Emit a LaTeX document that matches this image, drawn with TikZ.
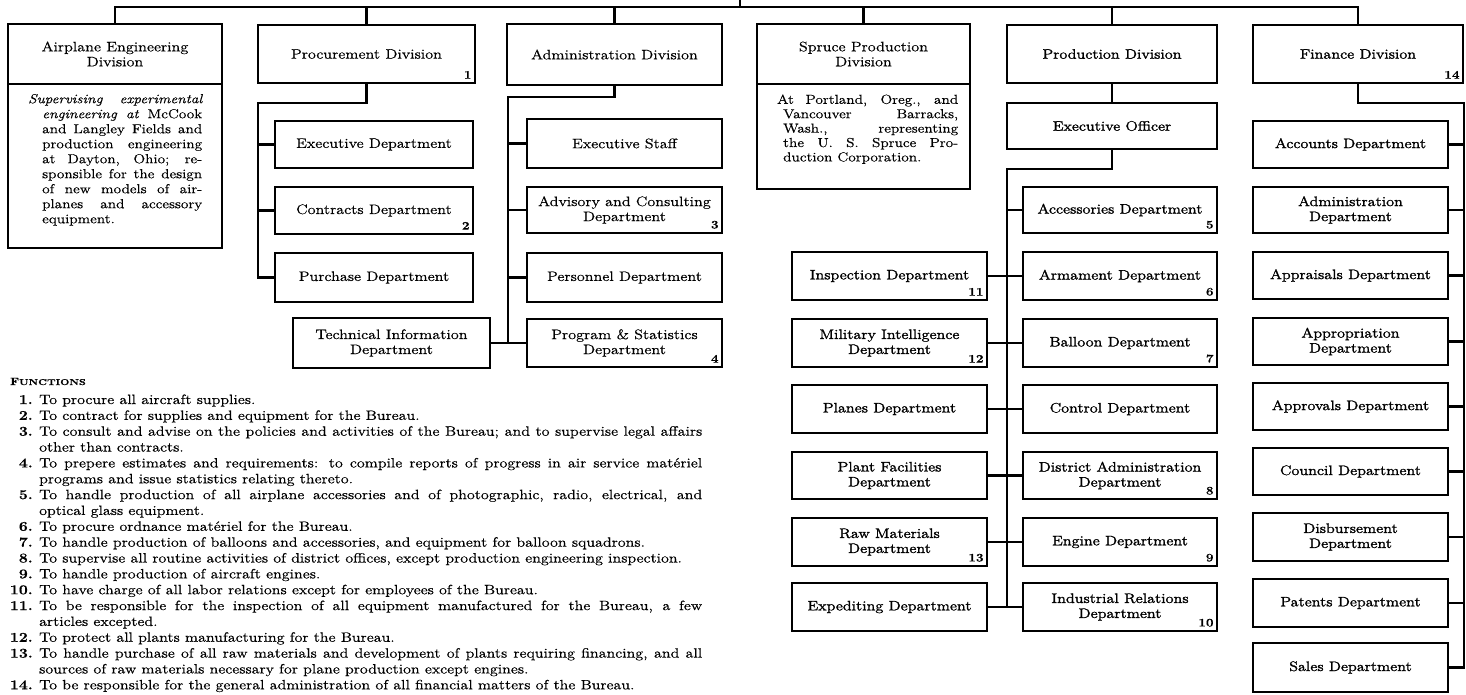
\documentclass[tikz,border=0pt]{standalone}
\usepackage{graphicx}
\usepackage{fontspec}
\setmainfont{Latin Modern Roman}[FakeStretch=1.18,FakeBold=0.5]
\newfontfamily\heavyfam{Latin Modern Roman}[FakeStretch=1.18,FakeBold=1.6]
\newcommand\lblfont{\fontsize{13.7}{15}\selectfont}
\newcommand\heavylbl{\heavyfam\fontsize{13.7}{15}\selectfont}
\newcommand\fntfont{\fontsize{13.5}{15}\selectfont}
\newlength\fnat
\newlength\jwid
% horizontal setting width of the functions list
\AtBeginDocument{%
  \settowidth\fnat{\fntfont To procure all aircraft supplies.%
  To contract for supplies and equipment for the Bureau.%
  To handle production of balloons and accessories, and equipment for balloon squadrons.%
  To supervise all routine activities of district offices, except production engineering inspection.%
  To handle production of aircraft engines.%
  To have charge of all labor relations except for employees of the Bureau.%
  To protect all plants manufacturing for the Bureau.%
  sources of raw materials necessary for plane production except engines.%
  To be responsible for the general administration of all financial matters of the Bureau.}%
  \pgfmathsetmacro\fsx{4065/\fnat}%
  \pgfmathsetlength\jwid{663pt/\fsx}}
% box: [options]{name}{x1}{y1}{x2}{y2}{label}
\newcommand\ubox[7][]{%
  \node[box,#1,minimum width={(#5-#3)*1pt},minimum height={(#6-#4)*1pt}]
    (#2) at ({(#3+#5)/2},{(#4+#6)/2}) {#7};}
% reference number in the lower right corner of a box
\newcommand\unum[2]{%
  \node[numl,anchor=south east] (#1n) at ([shift={(-4,-5)}]#1.south east) {#2};}
% functions list: numbered line, continuation line
\newcommand\fitem[4]{%
  \node[fnt,anchor=base east] (#1n) at (33,#2) {\bfseries #3.};
  \node[fnt,anchor=base west] (#1) at (39,#2) {\scalebox{\fsx}[1]{#4}};}
\newcommand\fcont[3]{%
  \node[fnt,anchor=base west] (#1) at (39,#2) {\scalebox{\fsx}[1]{#3}};}
\newcommand\jl[1]{\makebox[\jwid][s]{#1}}
\begin{document}
\begin{tikzpicture}[x=1pt,y=-1pt,
  box/.style={draw,line width=1.5pt,inner sep=0pt,align=center,font=\lblfont},
  heavy/.style={font=\heavylbl},
  conn/.style={draw,line width=2.6pt,line cap=rect},
  numl/.style={inner sep=0pt,font=\fontsize{11.5}{13}\selectfont\bfseries},
  body/.style={inner sep=0pt,align=left,anchor=north west},
  fnt/.style={inner sep=0pt,font=\fntfont}]
\useasboundingbox (0,0) rectangle (1466,694);

% ---- divisions ----
\ubox{aed}{8}{24}{222}{84}{Airplane Engineering\\Division}
\ubox{aedb}{8}{84}{222}{248}{}
\ubox{proc}{258}{25}{475}{83}{Procurement Division}\unum{proc}{1}
\ubox{adm}{507}{24}{722}{85}{Administration Division}
\ubox{spr}{757}{24}{970}{84}{Spruce Production\\Division}
\ubox{sprb}{757}{84}{970}{189}{}
\ubox[heavy]{prd}{1007}{25}{1217}{83}{Production Division}
\ubox[heavy]{fin}{1253}{25}{1463}{83}{Finance Division}\unum{fin}{14}

% ---- descriptive notes ----
\node[body,font=\fontsize{13}{15}\selectfont] (aedt) at (28,92.5) {%
  \strut\makebox[174pt][s]{\itshape Supervising experimental}\\
  \hspace*{14pt}\makebox[160pt][s]{\textit{engineering at} McCook}\\
  \hspace*{14pt}\makebox[160pt][s]{and Langley Fields and}\\
  \hspace*{14pt}\makebox[160pt][s]{production engineering}\\
  \hspace*{14pt}\makebox[160pt][s]{at Dayton, Ohio; re-}\\
  \hspace*{14pt}\makebox[160pt][s]{sponsible for the design}\\
  \hspace*{14pt}\makebox[160pt][s]{of new models of air-}\\
  \hspace*{14pt}\makebox[160pt][s]{planes and accessory}\\
  \hspace*{14pt}equipment.};
\node[body,font=\fontsize{13}{14.4}\selectfont] (sprt) at (777,93.5) {%
  \strut\makebox[181pt][s]{At Portland, Oreg., and}\\
  \hspace*{6pt}\makebox[175pt][s]{Vancouver Barracks,}\\
  \hspace*{6pt}\makebox[175pt][s]{Wash., representing}\\
  \hspace*{6pt}\makebox[175pt][s]{the U. S. Spruce Pro-}\\
  \hspace*{6pt}duction Corporation.};

% ---- procurement ----
\ubox{pexe}{275}{121}{473}{168}{Executive Department}
\ubox{pcon}{275}{187}{473}{234}{Contracts Department}\unum{pcon}{2}
\ubox{ppur}{275}{253}{473}{302}{Purchase Department}
\ubox{tinf}{293}{318}{490}{368}{Technical Information\\Department}

% ---- administration ----
\ubox{aexe}{527}{119}{722}{168}{Executive Staff}
\ubox{aadv}{527}{187}{722}{233}{Advisory and Consulting\\Department}\unum{aadv}{3}
\ubox{aper}{527}{253}{722}{302}{Personnel Department}
\ubox{aprg}{527}{319}{722}{367}{Program \& Statistics\\Department}\unum{aprg}{4}

% ---- production ----
\ubox[heavy]{peo}{1007}{103}{1217}{149}{Executive Officer}
\ubox[heavy]{acc}{1023}{187}{1217}{233}{Accessories Department}\unum{acc}{5}
\ubox[heavy]{arm}{1023}{252}{1217}{300}{Armament Department}\unum{arm}{6}
\ubox[heavy]{bal}{1023}{319}{1217}{367}{Balloon Department}\unum{bal}{7}
\ubox[heavy]{ctl}{1023}{385}{1217}{433}{Control Department}
\ubox[heavy]{dad}{1023}{452}{1217}{499}{District Administration\\Department}\unum{dad}{8}
\ubox[heavy]{eng}{1023}{518}{1217}{566}{Engine Department}\unum{eng}{9}
\ubox[heavy]{ind}{1023}{583}{1217}{631}{Industrial Relations\\Department}\unum{ind}{10}
\ubox[heavy]{insp}{792}{252}{987}{300}{Inspection Department}\unum{insp}{11}
\ubox[heavy]{mil}{792}{319}{987}{367}{Military Intelligence\\Department}\unum{mil}{12}
\ubox[heavy]{pla}{792}{385}{987}{433}{Planes Department}
\ubox[heavy]{pfa}{792}{452}{987}{499}{Plant Facilities\\Department}
\ubox[heavy]{raw}{792}{518}{987}{566}{Raw Materials\\Department}\unum{raw}{13}
\ubox[heavy]{exp}{792}{583}{987}{631}{Expediting Department}

% ---- finance ----
\ubox[heavy]{facc}{1253}{121}{1448}{168}{Accounts Department}
\ubox[heavy]{fadm}{1253}{187}{1448}{233}{Administration\\Department}
\ubox[heavy]{fapr}{1253}{252}{1448}{299}{Appraisals Department}
\ubox[heavy]{fapp}{1253}{318}{1448}{365}{Appropriation\\Department}
\ubox[heavy]{fapv}{1253}{383}{1448}{430}{Approvals Department}
\ubox[heavy]{fcou}{1253}{448}{1448}{495}{Council Department}
\ubox[heavy]{fdis}{1253}{513}{1448}{561}{Disbursement\\Department}
\ubox[heavy]{fpat}{1253}{579}{1448}{627}{Patents Department}
\ubox[heavy]{fsal}{1253}{643}{1448}{692}{Sales Department}

% ---- connectors ----
\coordinate (topbar) at (740,7);
\coordinate (topend) at (740,0);
\draw[conn] (aed.north) |- (fin.north |- topbar) -- (fin.north);
\draw[conn] (topend) -- (topbar);
\foreach \n in {proc,adm,spr,prd} \draw[conn] (\n.north) -- (\n.north |- topbar);

\coordinate (pbus) at (258,103);
\draw[conn] (proc.south) |- (pbus) -- (pbus |- ppur.west) -- (ppur.west);
\foreach \n in {pexe,pcon} \draw[conn] (pbus |- \n.west) -- (\n.west);

\coordinate (abus) at (508,97);
\draw[conn] (adm.south) |- (abus) -- (abus |- aprg.west) -- (aprg.west);
\foreach \n in {aexe,aadv,aper} \draw[conn] (abus |- \n.west) -- (\n.west);
\draw[conn] (tinf.east) -- (abus |- tinf.east);

\draw[conn] (prd.south) -- (peo.north);
\coordinate (dbus) at (1007,169);
\draw[conn] (peo.south) |- (dbus) -- (dbus |- ind.west) -- (ind.west);
\draw[conn] (dbus |- acc.west) -- (acc.west);
\draw[conn] (exp.east) -- (dbus |- exp.east);
\draw[conn] (insp.east) -- (arm.west);
\draw[conn] (mil.east) -- (bal.west);
\draw[conn] (pla.east) -- (ctl.west);
\draw[conn] (pfa.east) -- (dad.west);
\draw[conn] (raw.east) -- (eng.west);

\coordinate (fbus) at (1464,103);
\draw[conn] (fin.south) |- (fbus) -- (fbus |- fsal.east) -- (fsal.east);
\foreach \n in {facc,fadm,fapr,fapp,fapv,fcou,fdis,fpat}
  \draw[conn] (fbus |- \n.east) -- (\n.east);

% ---- functions ----
\node[inner sep=0pt,anchor=base west,font=\bfseries] (fhead) at (10,385)
  {\fontsize{10.5}{12}\selectfont F\fontsize{8.5}{10}\selectfont UNCTIONS};
\fitem{f1}{404}{1}{To procure all aircraft supplies.}
\fitem{f2}{419.85}{2}{To contract for supplies and equipment for the Bureau.}
\fitem{f3}{435.7}{3}{\jl{To consult and advise on the policies and activities of the Bureau; and to supervise legal affairs}}
\fcont{f3b}{451.55}{other than contracts.}
\fitem{f4}{467.4}{4}{\jl{To prepere estimates and requirements: to compile reports of progress in air service mat\'eriel}}
\fcont{f4b}{483.25}{programs and issue statistics relating thereto.}
\fitem{f5}{499.1}{5}{\jl{To handle production of all airplane accessories and of photographic, radio, electrical, and}}
\fcont{f5b}{514.95}{optical glass equipment.}
\fitem{f6}{530.8}{6}{To procure ordnance mat\'eriel for the Bureau.}
\fitem{f7}{546.65}{7}{To handle production of balloons and accessories, and equipment for balloon squadrons.}
\fitem{f8}{562.5}{8}{To supervise all routine activities of district offices, except production engineering inspection.}
\fitem{f9}{578.35}{9}{To handle production of aircraft engines.}
\fitem{f10}{594.2}{10}{To have charge of all labor relations except for employees of the Bureau.}
\fitem{f11}{610.05}{11}{\jl{To be responsible for the inspection of all equipment manufactured for the Bureau, a few}}
\fcont{f11b}{625.9}{articles excepted.}
\fitem{f12}{641.75}{12}{To protect all plants manufacturing for the Bureau.}
\fitem{f13}{657.6}{13}{\jl{To handle purchase of all raw materials and development of plants requiring financing, and all}}
\fcont{f13b}{673.45}{sources of raw materials necessary for plane production except engines.}
\fitem{f14}{689.3}{14}{To be responsible for the general administration of all financial matters of the Bureau.}
\end{tikzpicture}
\end{document}
